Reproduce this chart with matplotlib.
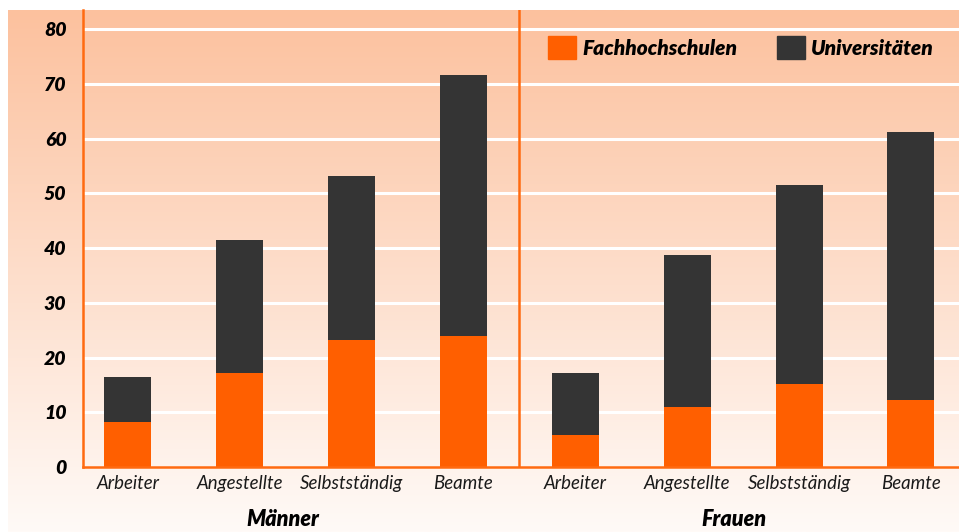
import numpy as np
import matplotlib
matplotlib.use("Agg")
import matplotlib.pyplot as plt
from matplotlib.patches import Patch
import matplotlib.transforms as mtrans

# data
categories = ["Arbeiter", "Angestellte", "Selbstständig", "Beamte",
              "Arbeiter", "Angestellte", "Selbstständig", "Beamte"]
groups = ["Männer", "Frauen"]
fachhochschulen = [8.2, 17.1, 23.2, 23.9, 5.8, 10.9, 15.1, 12.3]
universitaeten_total = [16.4, 41.5, 53.2, 71.6, 17.2, 38.8, 51.5, 61.3]
universitaeten = [t - f for t, f in zip(universitaeten_total, fachhochschulen)]
yticks = [0, 10, 20, 30, 40, 50, 60, 70, 80]

ORANGE = "#ff5f00"
DARK = "#343434"
LINE = "#ff6a10"

plt.rcParams["font.family"] = ["Lato", "DejaVu Sans"]

W, H = 959, 532
fig = plt.figure(figsize=(W / 100, H / 100), dpi=100, facecolor="white")

# gradient background
bg = fig.add_axes([8 / W, 0, 1 - 8 / W, (H - 10) / H], zorder=0)
top = np.array([252, 193, 158]) / 255
bot = np.array([255, 250, 247]) / 255
t = np.linspace(0, 1, 256)[:, None]
grad = top * (1 - t) + bot * t
bg.imshow(grad[:, None, :], aspect="auto", extent=[0, 1, 0, 1])
bg.set_axis_off()

ax = fig.add_axes([83 / W, (H - 467) / H, 1 - 83 / W, (467 - 10) / H], zorder=1)
ax.patch.set_alpha(0)

x = np.arange(len(categories))
ax.bar(x, fachhochschulen, width=0.42, color=ORANGE, zorder=3)
ax.bar(x, universitaeten, width=0.42, bottom=fachhochschulen, color=DARK, zorder=3)

ax.set_xlim(-0.40, 7.43)
ax.set_ylim(0, 83.5)
ax.set_yticks(yticks)
ax.set_yticklabels([str(v) for v in yticks], fontsize=14, fontweight="heavy",
                   fontstyle="italic")
ax.set_xticks(x)
ax.set_xticklabels(categories, fontsize=13.4, fontstyle="italic", color="#1a1a1a")
ax.tick_params(axis="y", length=0, pad=12)
ax.tick_params(axis="x", length=0, pad=6)

for v in yticks[1:]:
    ax.axhline(v, color="white", lw=2.2, zorder=1)

for s in ["top", "right"]:
    ax.spines[s].set_visible(False)
for s in ["left", "bottom"]:
    ax.spines[s].set_color(LINE)
    ax.spines[s].set_linewidth(1.8)
    ax.spines[s].set_zorder(4)

ax.axvline(3.5, color=LINE, lw=1.8, zorder=4)

# group labels
tr = mtrans.blended_transform_factory(ax.transData, fig.transFigure)
for gx, name in zip([1.39, 5.42], groups):
    ax.text(gx, 2 / H, name, transform=tr, ha="center", va="bottom",
            fontsize=15.5, fontweight="heavy", fontstyle="italic", clip_on=False)

handles = [Patch(color=ORANGE, label="Fachhochschulen"),
           Patch(color=DARK, label="Universitäten")]
leg = ax.legend(handles=handles, ncol=2, frameon=False, loc="upper left",
                bbox_to_anchor=(548 / W, 1 - 36 / H), bbox_transform=fig.transFigure,
                borderpad=0, borderaxespad=0, handlelength=1.35, handleheight=1.35,
                handletextpad=0.3, columnspacing=1.9,
                prop={"size": 15, "weight": "heavy", "style": "italic"})

fig.savefig("out.png", dpi=100)
